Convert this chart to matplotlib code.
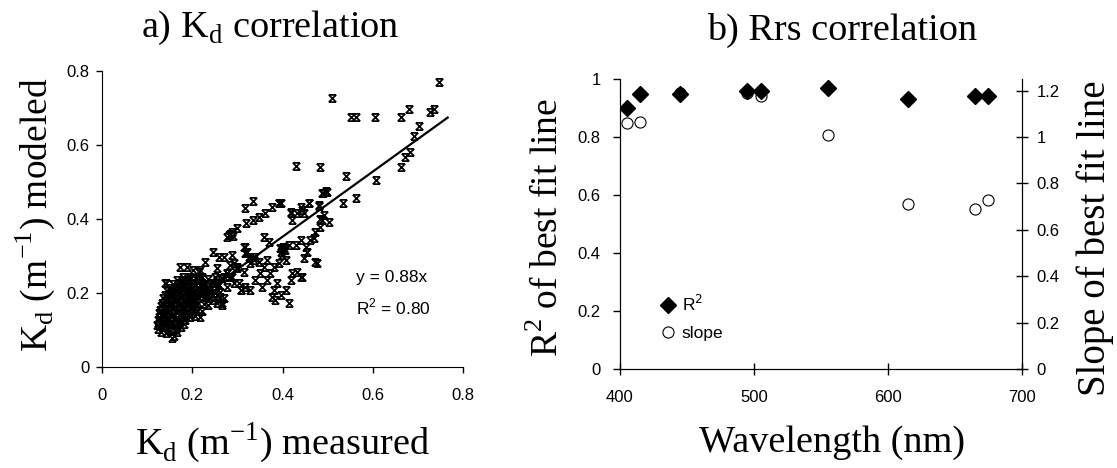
import matplotlib
matplotlib.use("Agg")
import matplotlib.pyplot as plt
from matplotlib.path import Path
from matplotlib.lines import Line2D
from matplotlib.ticker import FuncFormatter

# ---- panel a: Kd measured vs Kd modeled ----
# dense cluster at low Kd
cluster_meas = [
    0.155, 0.160,
    0.130, 0.141, 0.150, 0.166,
    0.125, 0.136, 0.146, 0.156, 0.164, 0.176,
    0.122, 0.131, 0.139, 0.151, 0.161, 0.169, 0.181,
    0.124, 0.133, 0.143, 0.152, 0.163, 0.171, 0.183,
    0.126, 0.135, 0.144, 0.156, 0.166, 0.174, 0.186, 0.195, 0.205, 0.218,
    0.127, 0.138, 0.147, 0.158, 0.167, 0.178, 0.188, 0.196,
    0.129, 0.137, 0.149, 0.157, 0.169, 0.177, 0.189, 0.199, 0.210, 0.222,
    0.131, 0.141, 0.150, 0.161, 0.171, 0.179, 0.191, 0.201, 0.209, 0.225, 0.235,
    0.133, 0.143, 0.152, 0.163, 0.172, 0.183, 0.192, 0.203, 0.213,
    0.136, 0.146, 0.154, 0.166, 0.176, 0.184, 0.196, 0.204, 0.216, 0.225, 0.238, 0.250,
    0.139, 0.151, 0.161, 0.169, 0.181, 0.191, 0.199, 0.211,
    0.144, 0.156, 0.164, 0.176, 0.186, 0.194, 0.206, 0.214, 0.225, 0.240, 0.255,
    0.149, 0.161, 0.171, 0.179, 0.191, 0.201,
    0.141, 0.158, 0.173, 0.186, 0.199, 0.212, 0.228, 0.245, 0.260,
    0.166, 0.181, 0.194, 0.208, 0.222, 0.236, 0.250, 0.265,
]
cluster_mod = [
    0.078, 0.085,
    0.095, 0.092, 0.097, 0.094,
    0.104, 0.107, 0.103, 0.106, 0.104, 0.108,
    0.114, 0.117, 0.113, 0.116, 0.114, 0.118, 0.115,
    0.126, 0.123, 0.127, 0.124, 0.127, 0.123, 0.126,
    0.134, 0.137, 0.133, 0.136, 0.134, 0.138, 0.135, 0.135, 0.138, 0.134,
    0.146, 0.143, 0.147, 0.144, 0.146, 0.143, 0.147, 0.144,
    0.154, 0.157, 0.153, 0.156, 0.154, 0.157, 0.153, 0.156, 0.155, 0.152,
    0.166, 0.163, 0.167, 0.164, 0.166, 0.163, 0.167, 0.164, 0.166, 0.170, 0.168,
    0.174, 0.177, 0.173, 0.176, 0.174, 0.177, 0.173, 0.176, 0.174,
    0.186, 0.183, 0.187, 0.184, 0.186, 0.183, 0.187, 0.184, 0.186, 0.190, 0.186, 0.190,
    0.194, 0.197, 0.193, 0.196, 0.194, 0.197, 0.193, 0.196,
    0.206, 0.203, 0.207, 0.204, 0.206, 0.203, 0.207, 0.204, 0.210, 0.208, 0.212,
    0.214, 0.217, 0.213, 0.216, 0.214, 0.217,
    0.226, 0.223, 0.227, 0.224, 0.226, 0.226, 0.224, 0.227, 0.222,
    0.236, 0.233, 0.237, 0.240, 0.242, 0.238, 0.244, 0.240,
]

# scattered points between the cluster and Kd = 0.5
mid_meas = [
    0.247, 0.259, 0.270, 0.284, 0.299, 0.229, 0.214, 0.173, 0.188, 0.255,
    0.277, 0.314, 0.318, 0.325, 0.336, 0.233, 0.247, 0.255, 0.270, 0.284,
    0.255, 0.266, 0.270, 0.240, 0.225, 0.203, 0.196, 0.181, 0.170, 0.210,
    0.221, 0.262, 0.277, 0.292, 0.307, 0.303, 0.140, 0.202, 0.218, 0.180,
    0.255, 0.267, 0.262, 0.250, 0.230, 0.245, 0.222, 0.289, 0.276,
    0.281, 0.288, 0.299, 0.320, 0.335, 0.347, 0.362, 0.377, 0.392, 0.318,
    0.334, 0.277, 0.284, 0.290, 0.396,
    0.418, 0.433, 0.444, 0.458, 0.481, 0.488, 0.499, 0.488, 0.473, 0.462,
    0.451, 0.440, 0.429, 0.414, 0.403, 0.396, 0.399, 0.407, 0.392, 0.381,
    0.366, 0.358, 0.351, 0.340, 0.329, 0.318, 0.307, 0.373, 0.366, 0.355,
    0.388, 0.381, 0.377, 0.384, 0.396, 0.407, 0.418, 0.422, 0.440, 0.473,
    0.370, 0.358, 0.318, 0.321, 0.292, 0.299, 0.288, 0.314, 0.329, 0.347,
    0.340, 0.398, 0.402, 0.395, 0.405, 0.476, 0.444, 0.414, 0.433, 0.447,
    0.455, 0.470, 0.484,
]
mid_mod = [
    0.312, 0.298, 0.298, 0.276, 0.271, 0.285, 0.258, 0.271, 0.271, 0.267,
    0.253, 0.325, 0.307, 0.298, 0.289, 0.217, 0.226, 0.235, 0.244, 0.244,
    0.172, 0.168, 0.186, 0.199, 0.208, 0.226, 0.244, 0.235, 0.226, 0.235,
    0.226, 0.204, 0.217, 0.226, 0.208, 0.226, 0.227, 0.262, 0.262, 0.243,
    0.227, 0.173, 0.190, 0.200, 0.190, 0.180, 0.200, 0.302, 0.254,
    0.357, 0.365, 0.375, 0.388, 0.397, 0.406, 0.417, 0.433, 0.444, 0.431,
    0.450, 0.352, 0.360, 0.355, 0.442,
    0.420, 0.415, 0.424, 0.442, 0.438, 0.469, 0.474, 0.397, 0.366, 0.343,
    0.325, 0.343, 0.330, 0.330, 0.321, 0.312, 0.303, 0.289, 0.280, 0.271,
    0.289, 0.271, 0.253, 0.235, 0.208, 0.217, 0.208, 0.253, 0.235, 0.217,
    0.226, 0.208, 0.190, 0.181, 0.195, 0.208, 0.235, 0.253, 0.244, 0.285,
    0.339, 0.352, 0.325, 0.312, 0.280, 0.267, 0.244, 0.257, 0.280, 0.284,
    0.298, 0.318, 0.325, 0.322, 0.315, 0.280, 0.244, 0.172, 0.258, 0.294,
    0.310, 0.350, 0.379,
]

# high Kd points
high_meas = [0.510, 0.551, 0.562, 0.604, 0.662, 0.681, 0.703, 0.692, 0.683, 0.671,
             0.662, 0.607, 0.540, 0.562, 0.534, 0.430, 0.484, 0.490, 0.496, 0.492,
             0.503, 0.484, 0.481, 0.459, 0.440, 0.447, 0.418, 0.421, 0.392, 0.727,
             0.736, 0.747]
high_mod = [0.726, 0.677, 0.677, 0.677, 0.677, 0.696, 0.651, 0.623, 0.582, 0.568,
            0.541, 0.505, 0.516, 0.456, 0.444, 0.544, 0.540, 0.469, 0.477, 0.411,
            0.393, 0.399, 0.435, 0.442, 0.433, 0.415, 0.417, 0.397, 0.444, 0.689,
            0.697, 0.770]

fit_slope = 0.88
fit_x = [0.13, 0.766]

# ---- panel b: Rrs correlation vs wavelength ----
wavelength = [405, 415, 445, 495, 505, 555, 615, 665, 675]
r2_values = [0.90, 0.95, 0.95, 0.96, 0.96, 0.97, 0.93, 0.94, 0.94]
slope_values = [1.06, 1.065, 1.19, 1.19, 1.175, 1.01, 0.71, 0.69, 0.73]

plt.rcParams['font.family'] = ['Liberation Sans', 'DejaVu Sans']
serif = 'Liberation Serif'
W, H = 1117, 468

fig = plt.figure(figsize=(W / 100, H / 100), dpi=100)


def px_axes(left, top, right, bottom):
    return fig.add_axes([left / W, 1 - bottom / H, (right - left) / W, (bottom - top) / H])


def px_text(x, y, s, **kw):
    fig.text(x / W, 1 - y / H, s, ha='center', va='center', family=serif, **kw)


fmt = FuncFormatter(lambda v, p: '%g' % v)

# x with bars marker used by Excel
star_x = Path([(-1, -1), (1, 1), (-1, 1), (1, -1), (-1, 1), (1, 1), (-1, -1), (1, -1)],
              [Path.MOVETO, Path.LINETO] * 4)

# panel a
ax1 = px_axes(102, 71, 463, 367)
for xs, ys in [(cluster_meas, cluster_mod), (mid_meas, mid_mod), (high_meas, high_mod)]:
    ax1.plot(xs, ys, linestyle='none', marker=star_x, markersize=5.2,
             markeredgewidth=1.25, markeredgecolor='black', markerfacecolor='none')
ax1.plot(fit_x, [fit_slope * v for v in fit_x], color='black', lw=1.6)
ax1.set_xlim(0, 0.8)
ax1.set_ylim(0, 0.8)
ax1.set_xticks([0, 0.2, 0.4, 0.6, 0.8])
ax1.set_yticks([0, 0.2, 0.4, 0.6, 0.8])
ax1.xaxis.set_major_formatter(fmt)
ax1.yaxis.set_major_formatter(fmt)
ax1.spines['top'].set_visible(False)
ax1.spines['right'].set_visible(False)
ax1.tick_params(axis='x', direction='out', length=4, width=1, pad=11, labelsize=12)
ax1.tick_params(axis='y', direction='out', length=4, width=1, pad=5, labelsize=12)
ax1.text(0.562, 0.243, 'y = 0.88x', fontsize=12.5, va='center')
ax1.text(0.562, 0.162, 'R$^\\mathregular{2}$ = 0.80', fontsize=12.5, va='center')

px_text(270, 28, 'a) K$_\\mathregular{d}$ correlation', fontsize=27.5)
px_text(282, 443, 'K$_\\mathregular{d}$ (m$^\\mathregular{-1}$) measured', fontsize=27.5)
px_text(35, 215, 'K$_\\mathregular{d}$ (m$^\\mathregular{-1}$) modeled', fontsize=27, rotation=90)

# panel b
ax2 = px_axes(620, 79, 1022, 369)
ax3 = ax2.twinx()
ax2.set_zorder(ax3.get_zorder() + 1)
ax2.patch.set_visible(False)
ax2.plot(wavelength, r2_values, linestyle='none', marker='D', markersize=8,
         color='black')
ax3.plot(wavelength, slope_values, linestyle='none', marker='o', markersize=8,
         markerfacecolor='white', markeredgecolor='black', markeredgewidth=0.8)
ax2.set_xlim(400, 700)
ax2.set_ylim(0, 1)
ax3.set_ylim(0, 1.25)
ax2.set_xticks([400, 500, 600, 700])
ax2.set_yticks([0, 0.2, 0.4, 0.6, 0.8, 1])
ax3.set_yticks([0, 0.2, 0.4, 0.6, 0.8, 1.0, 1.2])
ax2.yaxis.set_major_formatter(fmt)
ax3.yaxis.set_major_formatter(fmt)
for ax in (ax2, ax3):
    ax.spines['top'].set_visible(False)
ax2.tick_params(axis='x', direction='inout', length=8, width=1, pad=11, labelsize=12)
ax2.tick_params(axis='y', direction='out', length=5, width=1, pad=9, labelsize=12)
ax3.tick_params(axis='y', direction='inout', length=9, width=1, pad=6, labelsize=12)

handles = [
    Line2D([], [], linestyle='none', marker='D', markersize=8, color='black'),
    Line2D([], [], linestyle='none', marker='o', markersize=8, markerfacecolor='white',
           markeredgecolor='black', markeredgewidth=0.8),
]
ax2.legend(handles, ['R$^2$', 'slope'], loc='center left', bbox_to_anchor=(0.097, 0.178),
           frameon=False, handlelength=1.0, handletextpad=0.3, labelspacing=0.7,
           borderpad=0, borderaxespad=0, fontsize=12.5)

px_text(842, 30, 'b) Rrs correlation', fontsize=27.5)
px_text(832, 443, 'Wavelength (nm)', fontsize=27.5)
px_text(548, 228, 'R$^\\mathregular{2}$ of best fit line', fontsize=27, rotation=90)
px_text(1095, 238, 'Slope of best fit line', fontsize=28, rotation=90)

fig.savefig('out.png', dpi=100)
